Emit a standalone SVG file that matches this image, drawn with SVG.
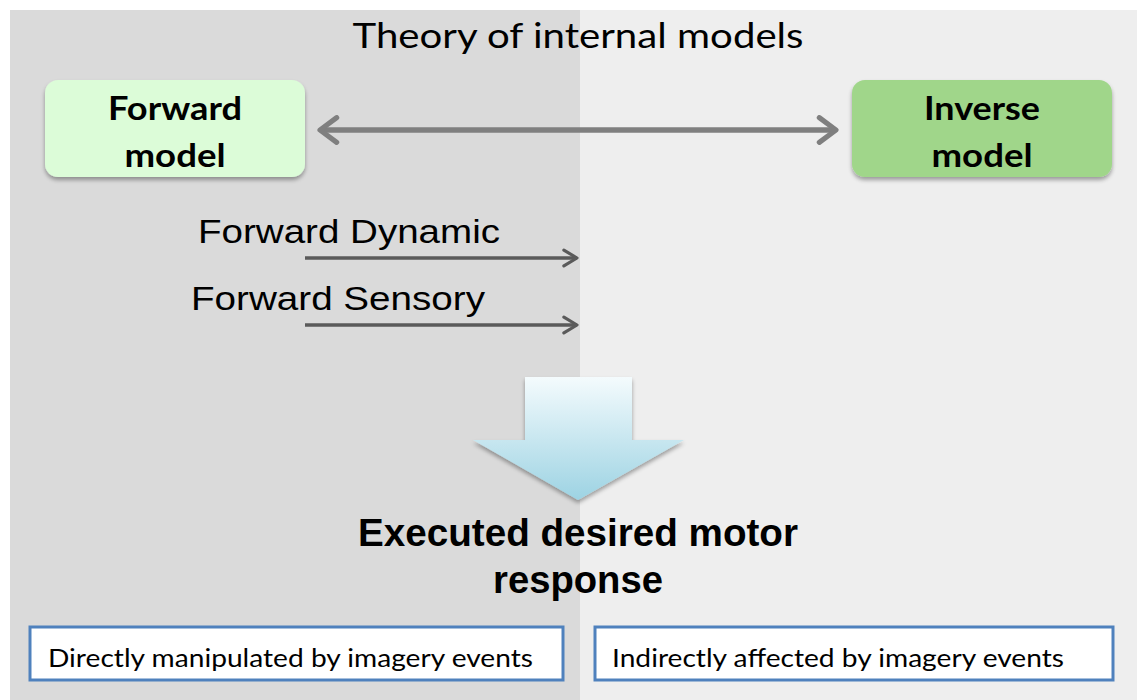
<svg xmlns="http://www.w3.org/2000/svg" width="1137" height="700" viewBox="0 0 1137 700">
  <style>
    .cal { font-family: Lato, "Open Sans", sans-serif; fill: #000; }
    .calb { font-family: Lato, "Open Sans", sans-serif; font-weight: bold; fill: #000; }
    .ar { font-family: "Liberation Sans", Arial, sans-serif; fill: #000; }
    .arb { font-family: "Liberation Sans", Arial, sans-serif; font-weight: bold; fill: #000; }
    .model { stroke: none; filter: url(#shadow); }
    .note { fill: #fff; stroke: #4f81bd; stroke-width: 3; }
    .link { fill: none; stroke: #5a5a5a; stroke-width: 3.5; }
    .dbl { fill: none; stroke: #7f7f7f; stroke-width: 5.5; }
  </style>
  <defs>
    <filter id="shadow" x="-10%" y="-10%" width="120%" height="130%">
      <feGaussianBlur in="SourceAlpha" stdDeviation="2"/>
      <feOffset dx="0" dy="3" result="b"/>
      <feComponentTransfer><feFuncA type="linear" slope="0.35"/></feComponentTransfer>
      <feMerge><feMergeNode/><feMergeNode in="SourceGraphic"/></feMerge>
    </filter>
    <linearGradient id="down" x1="0" y1="0" x2="0" y2="1">
      <stop offset="0" stop-color="#f4fbfd"/>
      <stop offset="1" stop-color="#9dd3e3"/>
    </linearGradient>
    <marker id="chev" viewBox="0 0 12 12" refX="10.5" refY="6" markerWidth="5.6" markerHeight="5.6" orient="auto-start-reverse" markerUnits="strokeWidth">
      <path d="M4,1.2 L10.5,6 L4,10.8" fill="none" stroke="#7f7f7f" stroke-width="2" stroke-linecap="round" stroke-linejoin="round"/>
    </marker>
    <marker id="chevDark" viewBox="0 0 12 12" refX="10.5" refY="6" markerWidth="6" markerHeight="6" orient="auto" markerUnits="strokeWidth">
      <path d="M3,1.5 L10.5,6 L3,10.5" fill="none" stroke="#5a5a5a" stroke-width="1.8" stroke-linecap="round" stroke-linejoin="round"/>
    </marker>
  </defs>

  <!-- background panels -->
  <rect x="0" y="0" width="1137" height="700" fill="#ffffff"/>
  <rect x="10" y="10" width="570" height="690" fill="#dadada"/>
  <rect x="580" y="10" width="557" height="690" fill="#eeeeee"/>

  <text class="cal" x="578" y="48" font-size="34" text-anchor="middle" textLength="451" lengthAdjust="spacingAndGlyphs">Theory of internal models</text>

  <g id="forward-model">
    <rect class="model" x="45" y="80" width="260" height="97" rx="13" fill="#dcfcd8"/>
    <text class="calb" x="175" y="120" font-size="33" text-anchor="middle" textLength="134" lengthAdjust="spacingAndGlyphs">Forward</text>
    <text class="calb" x="175" y="167" font-size="33" text-anchor="middle" textLength="101" lengthAdjust="spacingAndGlyphs">model</text>
  </g>

  <g id="inverse-model">
    <rect class="model" x="852" y="80" width="260" height="97" rx="13" fill="#a0d68a"/>
    <text class="calb" x="982" y="120" font-size="33" text-anchor="middle" textLength="116" lengthAdjust="spacingAndGlyphs">Inverse</text>
    <text class="calb" x="982" y="167" font-size="33" text-anchor="middle" textLength="101" lengthAdjust="spacingAndGlyphs">model</text>
  </g>

  <g id="connectors">
    <line class="dbl" x1="320" y1="130" x2="836" y2="130" marker-start="url(#chev)" marker-end="url(#chev)"/>
    <line class="link" x1="305" y1="258" x2="577" y2="258" marker-end="url(#chevDark)"/>
    <line class="link" x1="305" y1="325" x2="577" y2="325" marker-end="url(#chevDark)"/>
  </g>

  <g id="forward-dynamic">
    <text class="ar" x="198" y="243" font-size="34" textLength="302" lengthAdjust="spacingAndGlyphs">Forward Dynamic</text>
  </g>
  <g id="forward-sensory">
    <text class="ar" x="191" y="310" font-size="34" textLength="294" lengthAdjust="spacingAndGlyphs">Forward Sensory</text>
  </g>

  <g id="down-arrow">
    <path d="M525,377 L632,377 L632,440 L684,440 L578,500 L473,440 L525,440 Z" fill="url(#down)" filter="url(#shadow)"/>
  </g>

  <g id="motor-response">
    <text class="arb" x="578" y="546" font-size="38" text-anchor="middle" textLength="440" lengthAdjust="spacingAndGlyphs">Executed desired motor</text>
    <text class="arb" x="578" y="593" font-size="38" text-anchor="middle" textLength="170" lengthAdjust="spacingAndGlyphs">response</text>
  </g>

  <g id="direct-note">
    <rect class="note" x="30" y="627" width="533" height="53"/>
    <text class="cal" x="48" y="667" font-size="25" textLength="485" lengthAdjust="spacingAndGlyphs">Directly manipulated by imagery events</text>
  </g>

  <g id="indirect-note">
    <rect class="note" x="595" y="627" width="518" height="53"/>
    <text class="cal" x="612" y="667" font-size="25" textLength="452" lengthAdjust="spacingAndGlyphs">Indirectly affected by imagery events</text>
  </g>
</svg>
